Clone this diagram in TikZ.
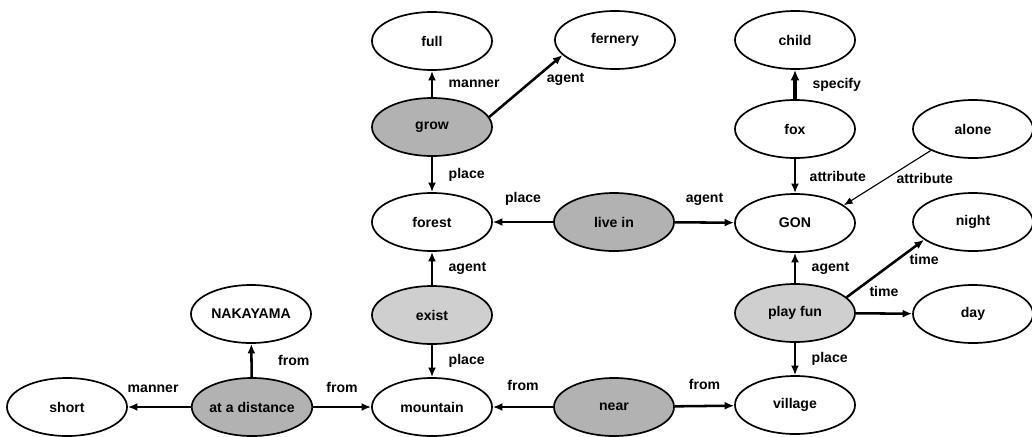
\documentclass[tikz,border=0pt]{standalone}
\usepackage{fontspec}
\setmainfont{Liberation Sans}
\usetikzlibrary{shapes.geometric,arrows.meta}
\begin{document}
\begin{tikzpicture}[x=0.025cm, y=-0.025cm,
  every node/.style={font=\bfseries\fontsize{10}{12}\selectfont},
  word/.style={shape=ellipse,draw=black,line width=1.2pt,minimum width=3cm,minimum height=1.45cm,inner sep=0pt},
  act/.style={word,fill=gray!60},
  actlight/.style={word,fill=gray!38},
  rel/.style={-{Latex[length=2.4mm,width=2mm]},line width=1.8pt},
  thinrel/.style={rel,line width=1.2pt},
  lbl/.style={inner sep=1pt}]
\useasboundingbox (0,0) rectangle (1032,436);
% concepts
\node[word] (full) at (432,41) {full};
\node[word] (fernery) at (615,40) {fernery};
\node[word] (child) at (795,40) {child};
\node[act] (grow) at (432,127) {grow};
\node[word] (fox) at (795,129) {fox};
\node[word] (alone) at (973,129) {alone};
\node[word] (forest) at (432,222) {forest};
\node[act] (livein) at (614,222) {live in};
\node[word] (GON) at (795,223) {GON};
\node[word] (night) at (973,222) {night};
\node[word] (NAKAYAMA) at (251,314) {NAKAYAMA};
\node[actlight] (exist) at (432,315) {exist};
\node[actlight] (playfun) at (795,313) {play fun};
\node[word] (day) at (973,314) {day};
\node[word] (short) at (67,407) {short};
\node[act] (distance) at (252,407) {at a distance};
\node[word] (mountain) at (432,407) {mountain};
\node[act] (near) at (614,407) {near};
\node[word] (village) at (795,405) {village};
% relations
\draw[rel] (grow) -- node[lbl,right=3.5mm]{manner} (full);
\draw[rel] (grow.10) -- node[lbl,pos=0.75,below right]{agent} (fernery.196);
\draw[rel] (grow) -- node[lbl,right=3.5mm]{place} (forest);
\draw[thinrel] (livein) -- node[lbl,above=3.5mm]{place} (forest);
\draw[rel] (livein) -- node[lbl,above=3.5mm]{agent} (GON);
\draw[rel] (exist) -- node[lbl,right=3.5mm]{agent} (forest);
\draw[rel] (exist) -- node[lbl,right=3.5mm]{place} (mountain);
\draw[-{Latex[length=2.6mm,width=2.2mm]},line width=3pt] (fox) -- node[lbl,right=3.5mm]{specify} (child);
\draw[rel] (fox) -- node[lbl,right=3mm]{attribute} (GON);
\draw[-{Latex[length=2.2mm,width=1.8mm]},line width=0.8pt] (alone.207) -- node[lbl,pos=0.4,anchor=north west,inner sep=0pt]{attribute} (GON.20);
\draw[rel] (playfun) -- node[lbl,right=3.5mm]{agent} (GON);
\draw[rel] (playfun.17) -- node[lbl,pos=0.65,right=2.5mm]{time} (night.200);
\draw[rel] (playfun) -- node[lbl,above=3.5mm]{time} (day);
\draw[rel] (playfun) -- node[lbl,right=3.5mm]{place} (village);
\draw[rel] (distance) -- node[lbl,right=6mm]{from} (NAKAYAMA);
\draw[thinrel] (distance) -- node[lbl,pos=0.6,above=3mm]{manner} (short);
\draw[rel] (distance) -- node[lbl,above=3mm]{from} (mountain);
\draw[thinrel] (near) -- node[lbl,above=3.5mm]{from} (mountain);
\draw[rel] (near) -- node[lbl,above=3.5mm]{from} (village);
\end{tikzpicture}
\end{document}
